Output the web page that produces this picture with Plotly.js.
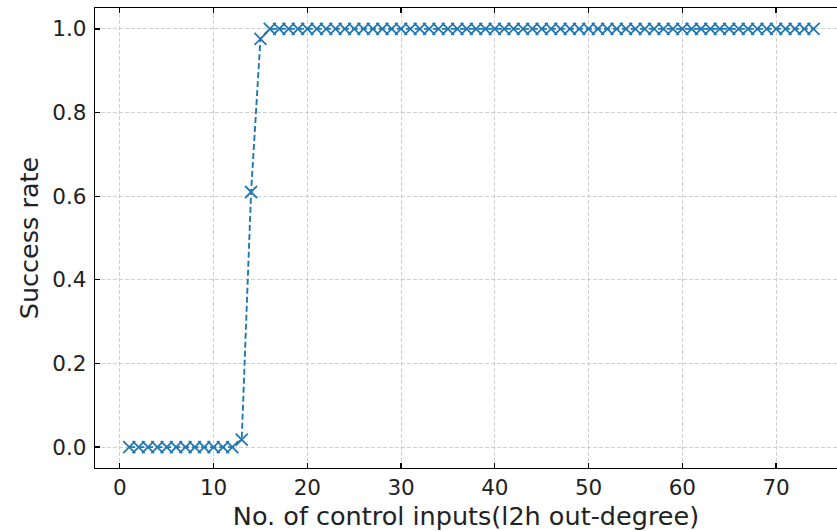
<!DOCTYPE html>
<html>
<head>
<meta charset="utf-8">
<script src="https://cdn.plot.ly/plotly-3.0.1.min.js"></script>
<style>html,body{margin:0;padding:0;background:#fff;}#chart{width:837px;height:531px;}</style>
</head>
<body>
<div id="chart"></div>
<script>
// Number of control inputs (1..74)
const controlInputs = [1,2,3,4,5,6,7,8,9,10,11,12,13,14,15,16,17,18,19,20,21,22,23,24,25,26,27,28,29,30,31,32,33,34,35,36,37,38,39,40,41,42,43,44,45,46,47,48,49,50,51,52,53,54,55,56,57,58,59,60,61,62,63,64,65,66,67,68,69,70,71,72,73,74];
// Success rate
const successRate = [0,0,0,0,0,0,0,0,0,0,0,0,0.018,0.61,0.976,1,1,1,1,1,1,1,1,1,1,1,1,1,1,1,1,1,1,1,1,1,1,1,1,1,1,1,1,1,1,1,1,1,1,1,1,1,1,1,1,1,1,1,1,1,1,1,1,1,1,1,1,1,1,1,1,1,1,1];
const xTicks = [0,10,20,30,40,50,60,70];
const yTicks = [0,0.2,0.4,0.6,0.8,1.0];

const trace = {
  x: controlInputs,
  y: successRate,
  mode: 'lines+markers',
  type: 'scatter',
  line: {color: '#1f77b4', width: 1.9, dash: '6px,3px'},
  marker: {symbol: 'x-thin', size: 12, color: '#1f77b4', line: {color: '#1f77b4', width: 1.8}},
  showlegend: false
};

const axisCommon = {
  showline: true, linecolor: '#000', linewidth: 1.2,
  ticks: 'inside', ticklen: 5, tickwidth: 1.2, tickcolor: '#000',
  showgrid: true, gridcolor: '#c4c4c4', gridwidth: 0.8, griddash: '4px,2px',
  zeroline: false,
  tickfont: {family: 'DejaVu Sans', size: 21.5, color: '#222'}
};

const layout = {
  width: 837, height: 531,
  margin: {l: 95, r: 0, t: 8, b: 63},
  paper_bgcolor: '#fff', plot_bgcolor: '#fff',
  xaxis: Object.assign({}, axisCommon, {
    range: [-2.65, 76.5], tickvals: xTicks, ticktext: xTicks.map(String),
    mirror: 'ticks', ticklabelstandoff: 0,
    title: {text: 'No. of control inputs(l2h out-degree)', font: {family: 'DejaVu Sans', size: 25.5, color: '#222'}, standoff: 11}
  }),
  yaxis: Object.assign({}, axisCommon, {
    range: [-0.05, 1.05], tickvals: yTicks, ticktext: yTicks.map(v => v.toFixed(1)),
    ticklabelstandoff: 3,
    title: {text: 'Success rate', font: {family: 'DejaVu Sans', size: 25.5, color: '#222'}, standoff: 6}
  })
};

Plotly.newPlot('chart', [trace], layout, {displayModeBar: false, staticPlot: true});
</script>
</body>
</html>
